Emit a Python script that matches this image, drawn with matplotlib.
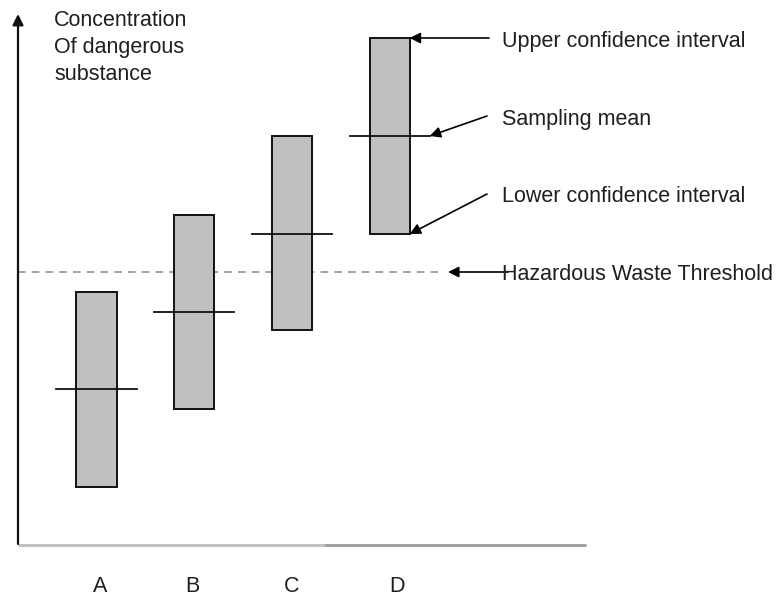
import matplotlib
matplotlib.use("Agg")
import matplotlib.pyplot as plt
from matplotlib.patches import Rectangle

plt.rcParams['font.family'] = ['Liberation Sans', 'DejaVu Sans']

# ---- data (arbitrary concentration units) ----
categories = ["A", "B", "C", "D"]
lower_ci = [5.8, 13.6, 21.5, 31.1]
upper_ci = [25.3, 33.0, 40.9, 50.7]
means = [15.6, 23.3, 31.1, 40.9]
threshold = 27.3

y_label = "Concentration\nOf dangerous\nsubstance"
annot_labels = ["Upper confidence interval", "Sampling mean",
                "Lower confidence interval", "Hazardous Waste Threshold"]

# ---- figure ----
W, H = 779, 597
fig = plt.figure(figsize=(W / 100, H / 100), dpi=100)
ax = fig.add_axes([0, 0, 1, 1])
ax.set_axis_off()
px_per_x = 97.7
x0_px = 96.5
py_per_y = 10.0
y0_py = 545
ax.set_xlim((0 - x0_px) / px_per_x, (W - x0_px) / px_per_x)
ax.set_ylim((y0_py - H) / py_per_y, (y0_py - 0) / py_per_y)

def px2x(px):
    return (px - x0_px) / px_per_x

def py2y(py):
    return (y0_py - py) / py_per_y

FS = 15.5
TC = "#1e1e24"
bar_w = 0.41
mean_half = 0.41
xs = list(range(len(categories)))
label_offsets = [0.04, -0.015, -0.005, 0.08]

# axes lines
ax_x = px2x(18)
ax.plot([px2x(18), px2x(324)], [0, 0], color="#bdbdbd", lw=2, solid_capstyle="butt", zorder=1)
ax.plot([px2x(324), px2x(586)], [0, 0], color="#9a9a9a", lw=2, solid_capstyle="butt", zorder=1)
ax.annotate("", xy=(ax_x, py2y(14)), xytext=(ax_x, 0.1),
            arrowprops=dict(arrowstyle="-|>", color="#111111", lw=1.6,
                            mutation_scale=16, shrinkA=0, shrinkB=0))

# threshold
ax.plot([ax_x, px2x(444)], [threshold, threshold], color="#8a8a8a", lw=1.1,
        dashes=(5, 4), zorder=1)

# bars
for x, lo, hi, m in zip(xs, lower_ci, upper_ci, means):
    ax.add_patch(Rectangle((x - bar_w / 2, lo), bar_w, hi - lo,
                           facecolor="#c0c0c0", edgecolor="#111111", lw=1.4, zorder=2))
    ax.plot([x - mean_half, x + mean_half], [m, m], color="#111111", lw=1.3, zorder=3)

# category labels
for x, c, off in zip(xs, categories, label_offsets):
    ax.text(x + off, py2y(587), c, ha="center", va="center", fontsize=FS, color=TC)

# y label
ax.text(px2x(54), py2y(10), y_label, ha="left", va="top", fontsize=FS,
        linespacing=1.38, color=TC)

# annotations pointing to bar D
d = xs[-1]
text_x = px2x(502)
arrow_kw = dict(arrowstyle="-|>", color="black", lw=1.2, mutation_scale=16,
                shrinkA=0, shrinkB=0)
ax.annotate("", xy=(d + bar_w / 2, upper_ci[-1]), xytext=(px2x(489), upper_ci[-1]),
            arrowprops=arrow_kw)
ax.text(text_x, py2y(41), annot_labels[0], ha="left", va="center",
        fontsize=FS, color=TC)
ax.annotate("", xy=(d + 0.41, means[-1]), xytext=(px2x(487), py2y(116)),
            arrowprops=arrow_kw)
ax.text(text_x, py2y(119), annot_labels[1], ha="left", va="center",
        fontsize=FS, color=TC)
ax.annotate("", xy=(d + bar_w / 2, lower_ci[-1]), xytext=(px2x(487), py2y(194)),
            arrowprops=arrow_kw)
ax.text(text_x, py2y(196), annot_labels[2], ha="left", va="center",
        fontsize=FS, color=TC)
ax.annotate("", xy=(px2x(448), threshold), xytext=(px2x(508), threshold),
            arrowprops=arrow_kw)
ax.text(text_x, py2y(274), annot_labels[3], ha="left", va="center",
        fontsize=FS, color=TC)

fig.savefig("out.png", dpi=100)
